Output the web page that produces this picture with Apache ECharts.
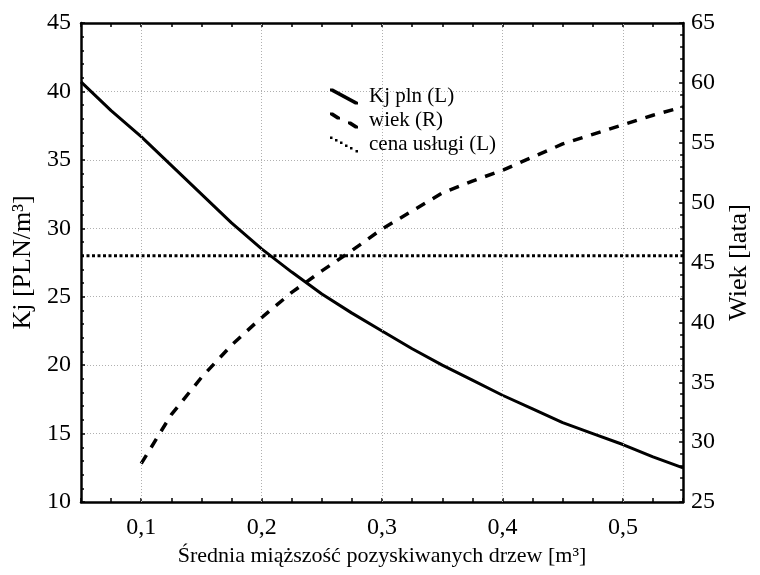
<!DOCTYPE html>
<html>
<head>
<meta charset="utf-8">
<script src="https://cdn.jsdelivr.net/npm/echarts@6/dist/echarts.min.js"></script>
<style>html,body{margin:0;padding:0;background:#fff;}#c{width:760px;height:575px;}</style>
</head>
<body>
<div id="c"></div>
<script>
// ---- data ----
const xs    = [0.05, 0.075, 0.1, 0.125, 0.15, 0.175, 0.2, 0.225, 0.25, 0.275, 0.3, 0.325, 0.35, 0.375, 0.4, 0.425, 0.45, 0.475, 0.5, 0.525, 0.55];
const kj    = [40.7, 38.6, 36.7, 34.6, 32.5, 30.4, 28.5, 26.8, 25.2, 23.8, 22.5, 21.2, 20.0, 18.9, 17.8, 16.8, 15.8, 15.0, 14.2, 13.3, 12.5];
const wiek  = [null, null, 28.2, 32.3, 35.4, 38.1, 40.4, 42.5, 44.3, 46.0, 47.8, 49.3, 50.8, 51.8, 52.7, 53.8, 54.9, 55.7, 56.5, 57.3, 58.0];
const cena  = [28, 28, 28, 28, 28, 28, 28, 28, 28, 28, 28, 28, 28, 28, 28, 28, 28, 28, 28, 28, 28];
const xGridTicks = [0.1, 0.2, 0.3, 0.4, 0.5];
const seriesNames = ['Kj pln (L)', 'wiek (R)', 'cena usługi (L)'];

const pairs = (ys) => xs.map((x, i) => [x, ys[i]]).filter(p => p[1] !== null);

const FONT = 'Liberation Serif';
const black = '#000';

const chart = echarts.init(document.getElementById('c'), null, {renderer: 'canvas'});

const tickLbl = (v) => {
  const r = Math.round(v * 10);
  if (Math.abs(v * 10 - r) < 1e-6) return String(r / 10).replace('.', ',');
  return '';
};

chart.setOption({
  animation: false,
  backgroundColor: '#fff',
  textStyle: {fontFamily: FONT, color: black},
  grid: {left: 81, top: 23, width: 609, height: 479, containLabel: false},
  legend: {
    orient: 'vertical',
    left: 325, top: 81,
    itemWidth: 28, itemHeight: 16, itemGap: 3,
    itemStyle: {borderWidth: 0},
    textStyle: {fontFamily: FONT, fontSize: 21, color: black, padding: [0, 0, 0, 6]},
    data: [
      {name: seriesNames[0], icon: 'path://M0,0 L3,0 L28,13.5 L28,16 L25,16 L0,2.5 Z'},
      {name: seriesNames[1], icon: 'path://M0,0 L3,0 L10,4.5 L10,7 L7,7 L0,2.5 Z M18,9 L21,9 L28,13.5 L28,16 L25,16 L18,11.5 Z'},
      {name: seriesNames[2], icon: 'path://M0,0 L2.5,0 L2.5,2.5 L0,2.5 Z M5,2.5 L7.5,2.5 L7.5,5 L5,5 Z M10,5 L12.5,5 L12.5,7.5 L10,7.5 Z M15,8 L17.5,8 L17.5,10.5 L15,10.5 Z M20,10.5 L22.5,10.5 L22.5,13 L20,13 Z M25.5,13.5 L28,13.5 L28,16 L25.5,16 Z'}
    ]
  },
  xAxis: [
    {
      type: 'value', position: 'bottom', min: 0.05, max: 0.55, interval: 0.025,
      name: 'Średnia miąższość pozyskiwanych drzew [m³]',
      nameLocation: 'middle', nameGap: 40,
      nameTextStyle: {fontFamily: FONT, fontSize: 22, color: black},
      axisLine: {show: true, onZero: false, lineStyle: {color: black, width: 2.5}},
      axisTick: {show: true, inside: true, length: 4, lineStyle: {color: black, width: 1.5}},
      axisLabel: {show: true, margin: 14, formatter: tickLbl, fontFamily: FONT, fontSize: 24, color: black, showMinLabel: true, showMaxLabel: true},
      splitLine: {show: false}
    },
    {
      type: 'value', position: 'top', min: 0.05, max: 0.55, interval: 0.025,
      axisLine: {show: true, onZero: false, lineStyle: {color: black, width: 2.5}},
      axisTick: {show: true, inside: true, length: 4, lineStyle: {color: black, width: 1.5}},
      axisLabel: {show: false},
      splitLine: {show: false}
    }
  ],
  yAxis: [
    {
      type: 'value', position: 'left', min: 10, max: 45, interval: 5,
      name: 'Kj [PLN/m³]', nameLocation: 'middle', nameGap: 41, nameRotate: 90,
      nameTextStyle: {fontFamily: FONT, fontSize: 26, color: black},
      axisLine: {show: true, onZero: false, lineStyle: {color: black, width: 2.5}},
      axisTick: {show: true, inside: true, length: 4, lineStyle: {color: black, width: 1.5}},
      minorTick: {show: true, splitNumber: 5, length: 3, lineStyle: {color: black, width: 1.5}},
      axisLabel: {margin: 10, fontFamily: FONT, fontSize: 24, color: black},
      splitLine: {show: true, lineStyle: {color: '#b0b0b0', width: 1, type: [1, 2]}}
    },
    {
      type: 'value', position: 'right', min: 25, max: 65, interval: 5,
      name: 'Wiek [lata]', nameLocation: 'middle', nameGap: 33, nameRotate: 90,
      nameTextStyle: {fontFamily: FONT, fontSize: 26, color: black},
      axisLine: {show: true, onZero: false, lineStyle: {color: black, width: 2.5}},
      axisTick: {show: true, inside: true, length: 4, lineStyle: {color: black, width: 1.5}},
      minorTick: {show: true, splitNumber: 5, length: 3, lineStyle: {color: black, width: 1.5}},
      axisLabel: {margin: 8, fontFamily: FONT, fontSize: 24, color: black},
      splitLine: {show: false}
    }
  ],
  series: [
    {
      name: 'grid-x', type: 'line', xAxisIndex: 0, yAxisIndex: 0, data: [], z: 1, silent: true,
      markLine: {
        silent: true, symbol: ['none', 'none'], label: {show: false}, animation: false,
        lineStyle: {color: '#b0b0b0', width: 1, type: [1, 2]},
        emphasis: {disabled: true},
        data: xGridTicks.map(v => ({xAxis: v}))
      }
    },
    {
      name: seriesNames[0], type: 'line', xAxisIndex: 0, yAxisIndex: 0, z: 3,
      data: pairs(kj), showSymbol: false, symbol: 'none', smooth: false,
      color: black, lineStyle: {color: black, width: 3}
    },
    {
      name: seriesNames[1], type: 'line', xAxisIndex: 0, yAxisIndex: 1, z: 3,
      data: pairs(wiek), showSymbol: false, symbol: 'none', smooth: false,
      color: black, lineStyle: {color: black, width: 3.5, type: [10, 9], cap: 'butt'}
    },
    {
      name: seriesNames[2], type: 'line', xAxisIndex: 0, yAxisIndex: 0, z: 3,
      data: pairs(cena), showSymbol: false, symbol: 'none',
      color: black, lineStyle: {color: black, width: 3, type: [3, 2.5], cap: 'butt'}
    }
  ]
});
</script>
</body>
</html>
